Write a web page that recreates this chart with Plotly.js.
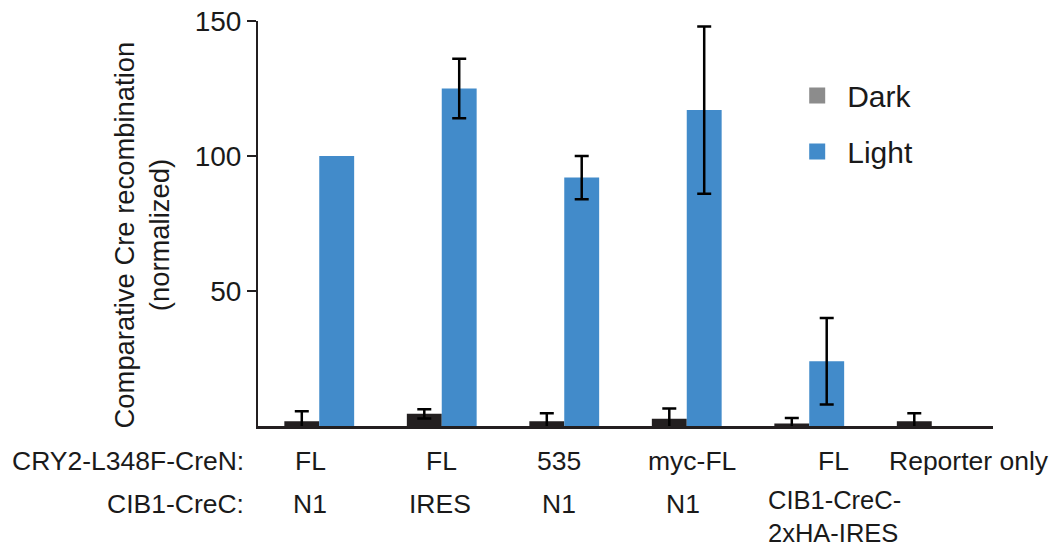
<!DOCTYPE html>
<html>
<head>
<meta charset="utf-8">
<script src="https://cdn.plot.ly/plotly-3.0.1.min.js"></script>
<style>html,body{margin:0;padding:0;background:#fff;}#chart{width:1051px;height:548px;}</style>
</head>
<body>
<div id="chart"></div>
<script>
// ---- data ----
var yTitle = "Comparative Cre recombination<br>(normalized)";
var row1Label = "CRY2-L348F-CreN:";
var row2Label = "CIB1-CreC:";
var cry2Labels = ["FL", "FL", "535", "myc-FL", "FL", "Reporter only"];
var cib1Labels = ["N1", "IRES", "N1", "N1", "CIB1-CreC-<br>2xHA-IRES", ""];
var darkValues = [1.8, 4.5, 1.8, 2.7, 0.9, 1.8];
var darkErrors = [3.7, 1.7, 2.9, 3.8, 2.1, 2.9];
var lightValues = [100, 125, 92, 117, 24, 0];
var lightErrors = [NaN, 11, 8, 31, 16, NaN];
var yTicks = [50, 100, 150];

var FONT = "Liberation Sans, Arial, Helvetica, sans-serif";
var TXT = "#1a1a1a";
var LBL = 26.5;
var xs = cry2Labels.map(function (_, i) { return i; });

var traces = [
  {
    type: "bar", x: xs, y: darkValues, name: "Dark", showlegend: false,
    marker: {color: "#231f20", line: {width: 0}},
    error_y: {type: "data", array: darkErrors, visible: true, color: "#000", thickness: 2.5, width: 7}
  },
  {
    type: "bar", x: xs, y: lightValues, name: "Light", showlegend: false,
    marker: {color: "#428bca", line: {width: 0}},
    error_y: {type: "data", array: lightErrors, visible: true, color: "#000", thickness: 2.5, width: 7}
  },
  {
    type: "scatter", mode: "markers", x: [null], y: [null], name: "Dark",
    legendgroup: "d", marker: {symbol: "square", size: 16, color: "#8c8c8c"}
  },
  {
    type: "scatter", mode: "markers", x: [null], y: [null], name: "Light",
    legendgroup: "l", marker: {symbol: "square", size: 16, color: "#428bca"}
  }
];

var annotations = [];
var shifts1 = [-9, 0, -5, 5, 24, 37];
cry2Labels.forEach(function (t, i) {
  annotations.push({text: t, x: i, xref: "x", y: -0.086, yref: "paper", xanchor: "center", yanchor: "middle",
    xshift: shifts1[i], showarrow: false, font: {family: FONT, size: LBL, color: TXT}});
});
var shifts2 = [-9, -2, -5, -4, 0, 0];
cib1Labels.forEach(function (t, i) {
  if (!t) return;
  if (t.indexOf("<br>") < 0) {
    annotations.push({text: t, x: i, xref: "x", y: -0.193, yref: "paper", xanchor: "center", yanchor: "middle",
      xshift: shifts2[i], showarrow: false, font: {family: FONT, size: LBL, color: TXT}});
  } else {
    annotations.push({text: t, x: i, xref: "x", y: -0.3012, yref: "paper", xanchor: "left", yanchor: "bottom",
      align: "left", borderpad: 0, xshift: -42, showarrow: false, font: {family: FONT, size: 25.5, color: TXT}});
  }
});
annotations.push({text: row1Label, x: 0, xref: "paper", xshift: -12, y: -0.086, yref: "paper",
  xanchor: "right", yanchor: "middle", showarrow: false, font: {family: FONT, size: LBL, color: TXT}});
annotations.push({text: row2Label, x: 0, xref: "paper", xshift: -12, y: -0.193, yref: "paper",
  xanchor: "right", yanchor: "middle", showarrow: false, font: {family: FONT, size: LBL, color: TXT}});
annotations.push({text: yTitle, textangle: -90, x: -0.157, xref: "paper", y: 0.472, yref: "paper",
  xanchor: "center", yanchor: "middle", showarrow: false, font: {family: FONT, size: 27.4, color: TXT}});

var layout = {
  width: 1051, height: 548,
  margin: {l: 258, r: 58, t: 21, b: 122},
  paper_bgcolor: "#fff", plot_bgcolor: "#fff",
  barmode: "group", bargap: 0.43, bargroupgap: 0,
  font: {family: FONT, color: TXT},
  xaxis: {
    range: [-0.5, 5.5], showticklabels: false, ticks: "", showgrid: false, zeroline: false,
    showline: true, linecolor: "#231f20", linewidth: 2.5, fixedrange: true
  },
  yaxis: {
    range: [0, 150], tickvals: yTicks, ticktext: yTicks.map(String), ticks: "outside", ticklen: 9,
    tickwidth: 2, tickcolor: "#231f20", showline: true, linecolor: "#231f20", linewidth: 2,
    showgrid: false, zeroline: false, tickfont: {family: FONT, size: 28, color: TXT}
  },
  legend: {
    x: 0.72, y: 0.88, xanchor: "left", yanchor: "top", bgcolor: "rgba(0,0,0,0)",
    font: {family: FONT, size: 30, color: TXT}, traceorder: "grouped", tracegroupgap: 14,
    itemwidth: 50
  },
  showlegend: true,
  annotations: annotations
};

Plotly.newPlot("chart", traces, layout, {displayModeBar: false, staticPlot: true});
</script>
</body>
</html>
